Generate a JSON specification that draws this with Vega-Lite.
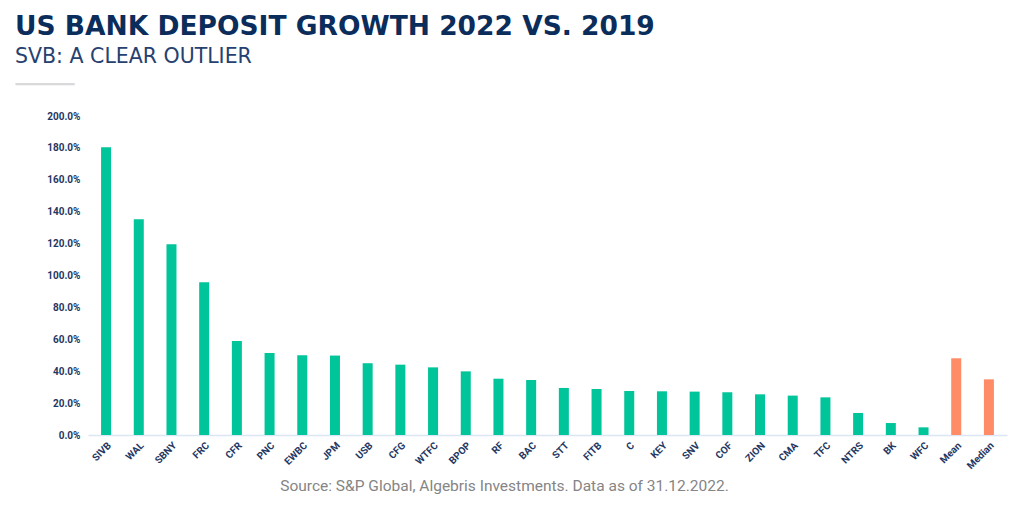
{
  "$schema": "https://vega.github.io/schema/vega-lite/v6.json",
  "width": 919,
  "height": 319,
  "autosize": {"type": "none"},
  "padding": {"left": 88, "top": 116, "right": 17, "bottom": 75},
  "background": "white",
  "title": {
    "text": "US BANK DEPOSIT GROWTH 2022 VS. 2019",
    "subtitle": "SVB: A CLEAR OUTLIER",
    "anchor": "start",
    "frame": "group",
    "dx": -73,
    "font": "DejaVu Sans",
    "fontSize": 26.5,
    "fontWeight": 700,
    "color": "#0b2d5b",
    "subtitleFont": "DejaVu Sans",
    "subtitleFontSize": 20.5,
    "subtitleFontWeight": 400,
    "subtitleColor": "#26416f",
    "subtitlePadding": 6,
    "offset": 10
  },
  "data": {
    "values": [
      {"bank": "SIVB", "growth": 1.804, "kind": "Bank"},
      {"bank": "WAL", "growth": 1.352, "kind": "Bank"},
      {"bank": "SBNY", "growth": 1.196, "kind": "Bank"},
      {"bank": "FRC", "growth": 0.957, "kind": "Bank"},
      {"bank": "CFR", "growth": 0.589, "kind": "Bank"},
      {"bank": "PNC", "growth": 0.514, "kind": "Bank"},
      {"bank": "EWBC", "growth": 0.500, "kind": "Bank"},
      {"bank": "JPM", "growth": 0.498, "kind": "Bank"},
      {"bank": "USB", "growth": 0.450, "kind": "Bank"},
      {"bank": "CFG", "growth": 0.441, "kind": "Bank"},
      {"bank": "WTFC", "growth": 0.424, "kind": "Bank"},
      {"bank": "BPOP", "growth": 0.399, "kind": "Bank"},
      {"bank": "RF", "growth": 0.353, "kind": "Bank"},
      {"bank": "BAC", "growth": 0.345, "kind": "Bank"},
      {"bank": "STT", "growth": 0.295, "kind": "Bank"},
      {"bank": "FITB", "growth": 0.288, "kind": "Bank"},
      {"bank": "C", "growth": 0.276, "kind": "Bank"},
      {"bank": "KEY", "growth": 0.274, "kind": "Bank"},
      {"bank": "SNV", "growth": 0.272, "kind": "Bank"},
      {"bank": "COF", "growth": 0.268, "kind": "Bank"},
      {"bank": "ZION", "growth": 0.255, "kind": "Bank"},
      {"bank": "CMA", "growth": 0.247, "kind": "Bank"},
      {"bank": "TFC", "growth": 0.236, "kind": "Bank"},
      {"bank": "NTRS", "growth": 0.138, "kind": "Bank"},
      {"bank": "BK", "growth": 0.075, "kind": "Bank"},
      {"bank": "WFC", "growth": 0.048, "kind": "Bank"},
      {"bank": "Mean", "growth": 0.481, "kind": "Stat"},
      {"bank": "Median", "growth": 0.349, "kind": "Stat"}
    ]
  },
  "mark": {"type": "bar"},
  "encoding": {
    "x": {
      "field": "bank",
      "type": "nominal",
      "sort": null,
      "scale": {"paddingInner": 0.694, "paddingOuter": 0.4},
      "axis": {
        "title": "Source:  S&P Global, Algebris Investments. Data as of 31.12.2022.",
        "titleFont": "Roboto",
        "titleFontSize": 15.5,
        "titleFontWeight": 400,
        "titleColor": "#858585",
        "titleAnchor": "start",
        "titleAlign": "center",
        "titleBaseline": "alphabetic",
        "titleX": 416,
        "titleY": 55,
        "labelAngle": -45,
        "labelAlign": "right",
        "labelBaseline": "top",
        "labelFont": "Roboto",
        "labelFontSize": 10,
        "labelFontWeight": 700,
        "labelColor": "#1f3864",
        "labelPadding": 5,
        "ticks": false,
        "domainColor": "#dce6f4",
        "domainWidth": 1.5
      }
    },
    "y": {
      "field": "growth",
      "type": "quantitative",
      "scale": {"domain": [0, 2], "nice": false},
      "axis": {
        "values": [0, 0.2, 0.4, 0.6, 0.8, 1.0, 1.2, 1.4, 1.6, 1.8, 2.0],
        "format": ".1%",
        "grid": false,
        "domain": false,
        "ticks": false,
        "labelPadding": 8,
        "labelFont": "Roboto",
        "labelFontSize": 10,
        "labelFontWeight": 700,
        "labelColor": "#1f3864",
        "title": "━━━━━━━",
        "titleAngle": 0,
        "titleX": -73,
        "titleY": -32,
        "titleAlign": "left",
        "titleBaseline": "middle",
        "titleFont": "DejaVu Sans",
        "titleFontSize": 14,
        "titleFontWeight": 400,
        "titleColor": "#d9d9d9"
      }
    },
    "color": {
      "field": "kind",
      "type": "nominal",
      "scale": {"domain": ["Bank", "Stat"], "range": ["#00c49a", "#ff8c66"]},
      "legend": null
    }
  },
  "config": {"view": {"stroke": null}}
}
